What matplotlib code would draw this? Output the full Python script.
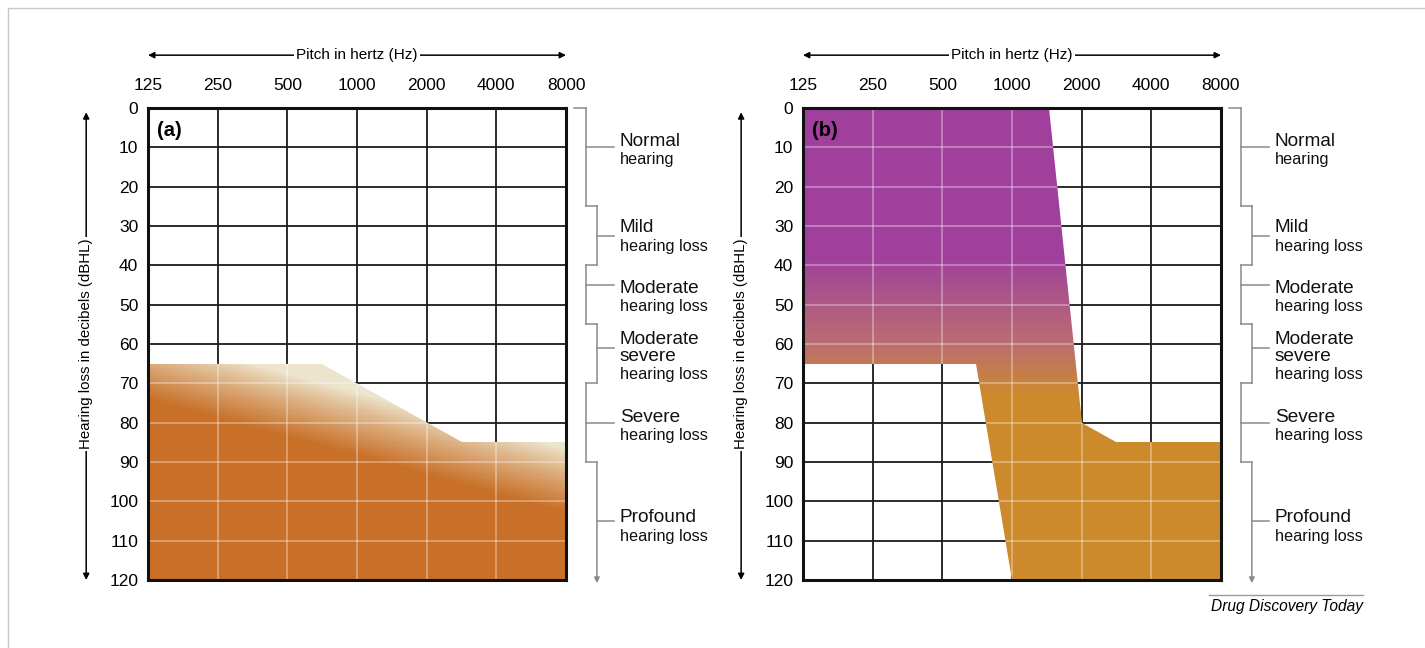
"""
Audiogram figure: two panels showing hearing-loss regions with
the standard severity brackets on the right of each chart.
"""

import numpy as np
import matplotlib
matplotlib.use("Agg")
import matplotlib.pyplot as plt
from matplotlib.colors import LinearSegmentedColormap
from matplotlib.patches import Polygon
from matplotlib.ticker import NullLocator
from matplotlib.lines import Line2D
import matplotlib.transforms as mtransforms

plt.rcParams['font.family'] = ['Liberation Sans', 'DejaVu Sans']

# ============================================================================
# DATA
# ============================================================================

freqs = [125, 250, 500, 1000, 2000, 4000, 8000]
freq_labels = ['125', '250', '500', '1000', '2000', '4000', '8000']
db_ticks = list(range(0, 121, 10))

# panel (a): hearing threshold line, everything below is filled
a_freq = [125, 707, 2828, 8000]
a_db = [65, 65, 85, 85]

# panel (b): outline of the filled region
b_freq = [125, 1450, 2000, 2828, 8000, 8000, 1000, 700, 125]
b_db = [0, 0, 80, 85, 85, 120, 120, 65, 65]

# severity categories (dB ranges) and their labels
cat_bounds = [0, 25, 40, 55, 70, 90, 120]
cat_main = ['Normal', 'Mild', 'Moderate', 'Moderate\nsevere', 'Severe', 'Profound']
cat_sub = ['hearing', 'hearing loss', 'hearing loss', 'hearing loss',
           'hearing loss', 'hearing loss']
cat_tick = [10, 32.5, 45, 61, 80, 105]      # where the label tick meets the bracket
cat_text = [8.4, 30.5, 45.8, 58.8, 78.6, 104.2]  # first text line centre

# ============================================================================
# STYLE
# ============================================================================

CREAM = (236/255, 228/255, 204/255)
ORANGE_A = (200/255, 112/255, 40/255)
PURPLE = (160/255, 64/255, 156/255)
MID_B = (186/255, 108/255, 114/255)
ORANGE_B = (204/255, 138/255, 44/255)
BRACKET = '#8a8a8a'

cmap_a = LinearSegmentedColormap.from_list('a', [CREAM, ORANGE_A])
cmap_b = LinearSegmentedColormap.from_list('b', [(0, PURPLE), (0.62, MID_B), (1, ORANGE_B)])


def setup_axes(ax):
    ax.set_xscale('log', base=2)
    ax.set_xlim(125, 8000)
    ax.set_ylim(120, 0)
    ax.set_xticks(freqs)
    ax.set_xticklabels(freq_labels)
    ax.xaxis.set_minor_locator(NullLocator())
    ax.set_yticks(db_ticks)
    ax.xaxis.tick_top()
    ax.tick_params(axis='x', length=0, pad=11, labelsize=12.5)
    ax.tick_params(axis='y', length=0, pad=7, labelsize=12.5)
    ax.set_axisbelow(True)
    ax.grid(True, color='#1a1a1a', lw=1.3)
    for sp in ax.spines.values():
        sp.set_linewidth(2.2)
        sp.set_color('#111111')
        sp.set_zorder(10)


def fill_region(ax, poly_f, poly_db, cmap, tfunc):
    patch = Polygon(np.column_stack([poly_f, poly_db]), closed=True,
                    facecolor='none', edgecolor='none', transform=ax.transData)
    ax.add_patch(patch)
    xs = 125 * 2 ** np.linspace(0, 6, 400)
    ys = np.linspace(0, 120, 400)
    X, Y = np.meshgrid(xs, ys)
    T = tfunc(np.log2(X / 125), Y)
    mesh = ax.pcolormesh(X, Y, T, cmap=cmap, vmin=0, vmax=1,
                         shading='auto', zorder=2, rasterized=True)
    mesh.set_clip_path(patch)
    # faint grid over the fill
    hl = ax.hlines(db_ticks, 125, 8000, colors='white', lw=1.3, alpha=0.35, zorder=3)
    vl = ax.vlines(freqs, 0, 120, colors='white', lw=1.3, alpha=0.35, zorder=3)
    hl.set_clip_path(patch)
    vl.set_clip_path(patch)


def draw_scale(ax):
    trans = mtransforms.blended_transform_factory(ax.transAxes, ax.transData)
    inner, outer, tick_end, start = 1.048, 1.074, 1.115, 1.019
    kw = dict(color=BRACKET, lw=1.1, transform=trans, clip_on=False)
    ax.plot([start, inner], [0, 0], **kw)
    n = len(cat_main)
    for i in range(n):
        lo, hi = cat_bounds[i], cat_bounds[i + 1]
        xi = inner if i % 2 == 0 else outer
        if i < n - 1:
            ax.plot([xi, xi], [lo, hi], **kw)
            ax.plot([inner, outer], [hi, hi], **kw)
        else:
            ax.annotate('', xy=(xi, 120.8), xytext=(xi, lo), xycoords=trans,
                        textcoords=trans,
                        arrowprops=dict(arrowstyle='-|>', color=BRACKET, lw=1.1,
                                        mutation_scale=8, shrinkA=0, shrinkB=0))
        ax.plot([xi, tick_end], [cat_tick[i], cat_tick[i]], **kw)

        lines = cat_main[i].split('\n')
        for j, line in enumerate(lines):
            ax.annotate(line, xy=(1.129, cat_text[i]), xycoords=trans,
                        xytext=(0, -12.6 * j), textcoords='offset points',
                        ha='left', va='center', fontsize=13.7, color='#111111',
                        annotation_clip=False)
        ax.annotate(cat_sub[i], xy=(1.129, cat_text[i]), xycoords=trans,
                    xytext=(0, -12.6 * len(lines) - 0.5), textcoords='offset points',
                    ha='left', va='center', fontsize=11.7, color='#111111',
                    annotation_clip=False)


def draw_axis_labels(ax):
    # pitch arrow on top
    ax.annotate('', xy=(0, 1.112), xytext=(1, 1.112), xycoords='axes fraction',
                arrowprops=dict(arrowstyle='<|-|>', color='black', lw=1.1,
                                mutation_scale=9, shrinkA=0, shrinkB=0))
    ax.text(0.5, 1.112, 'Pitch in hertz (Hz)', transform=ax.transAxes,
            ha='center', va='center', fontsize=11,
            bbox=dict(facecolor='white', edgecolor='none', pad=1.5))
    # decibel arrow on the left
    ax.annotate('', xy=(-0.148, 0.0), xytext=(-0.148, 0.991), xycoords='axes fraction',
                arrowprops=dict(arrowstyle='<|-|>', color='black', lw=1.1,
                                mutation_scale=9, shrinkA=0, shrinkB=0))
    ax.text(-0.148, 0.5, 'Hearing loss in decibels (dBHL)', transform=ax.transAxes,
            ha='center', va='center', rotation=90, fontsize=10.8,
            bbox=dict(facecolor='white', edgecolor='none', pad=1.5))


# ============================================================================
# FIGURE
# ============================================================================

fig = plt.figure(figsize=(14.25, 6.48), dpi=100)
ax_a = fig.add_axes([0.1039, 0.1049, 0.2933, 0.7284])
ax_b = fig.add_axes([0.5635, 0.1049, 0.2933, 0.7284])

for ax, tag in [(ax_a, '(a)'), (ax_b, '(b)')]:
    setup_axes(ax)
    draw_scale(ax)
    draw_axis_labels(ax)
    ax.text(0.022, 0.953, tag, transform=ax.transAxes, ha='left', va='center',
            fontsize=14.5, fontweight='bold', zorder=12)

# panel (a): diagonal cream-to-orange gradient under the threshold line
poly_a_f = a_freq + [8000, 125]
poly_a_db = a_db + [120, 120]
fill_region(ax_a, poly_a_f, poly_a_db, cmap_a,
            lambda o, d: np.clip((d - (58 + 4.8 * o)) / 16.0, 0, 1) ** 0.85)

# panel (b): vertical purple-to-orange gradient
fill_region(ax_b, b_freq, b_db, cmap_b,
            lambda o, d: np.clip((d - 38) / 35.0, 0, 1))

# journal credit
fig.add_artist(Line2D([0.8485, 0.9565], [0.0818, 0.0818], color='#999999', lw=1))
fig.text(0.9565, 0.0648, 'Drug Discovery Today', ha='right', va='center',
         fontsize=11.2, style='italic')

# thin frame round the picture
fig.add_artist(Line2D([0.0056, 0.0056, 1.0], [0.0, 0.9877, 0.9877],
                      color='#c8c8c8', lw=1))

fig.savefig('out.png', dpi=100)
plt.close(fig)
